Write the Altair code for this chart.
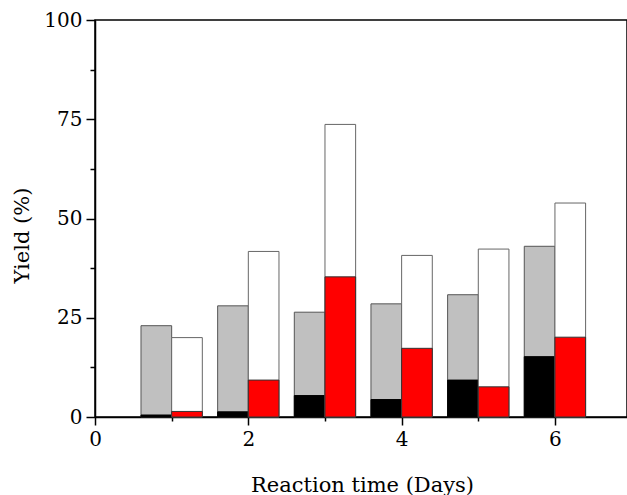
import altair as alt
import pandas as pd

days = [1, 2, 3, 4, 5, 6]
left_total = [23.0, 28.0, 26.4, 28.5, 30.8, 43.0]
left_part = [0.5, 1.3, 5.4, 4.4, 9.3, 15.2]
right_total = [20.0, 41.7, 73.7, 40.7, 42.3, 53.9]
right_part = [1.4, 9.3, 35.3, 17.3, 7.6, 20.1]

minor_x_ticks = [1, 3, 5]
minor_y_ticks = [12.5, 37.5, 62.5, 87.5]

df = pd.DataFrame({
    "day": days,
    "lt": left_total,
    "lp": left_part,
    "rt": right_total,
    "rp": right_part,
})

W, H = 532, 397
FONT = "DejaVu Serif"

xscale = alt.Scale(domain=[0, 6.94], nice=False, zero=False)
yscale = alt.Scale(domain=[0, 100], nice=False)

base = alt.Chart(df).transform_calculate(
    l0="datum.day - 0.4", l1="datum.day", r0="datum.day", r1="datum.day + 0.4"
)

x_major = alt.Axis(values=[0, 2, 4, 6], format="d", tickSize=8, labelPadding=4,
                   orient="bottom", labelFlush=False,
                   title="Reaction time (Days)", titleX=267, titleY=68,
                   titleBaseline="middle", grid=False)
y_major = alt.Axis(values=[0, 25, 50, 75, 100], tickSize=9, labelPadding=4,
                   orient="left", labelFlush=False,
                   title="Yield (%)", titleX=-73, titleY=215, titleBaseline="middle",
                   grid=False)

lt = base.mark_bar(color="#C0C0C0", stroke="#555555", strokeWidth=1).encode(
    x=alt.X("l0:Q", scale=xscale, axis=x_major), x2="l1:Q",
    y=alt.Y("lt:Q", scale=yscale, axis=y_major), y2=alt.datum(0))
lp = base.mark_bar(color="#000000", stroke="#000000", strokeWidth=1).encode(
    x=alt.X("l0:Q", scale=xscale, axis=None), x2="l1:Q",
    y=alt.Y("lp:Q", scale=yscale, axis=None), y2=alt.datum(0))
rt = base.mark_bar(color="#FFFFFF", stroke="#666666", strokeWidth=1).encode(
    x=alt.X("r0:Q", scale=xscale, axis=None), x2="r1:Q",
    y=alt.Y("rt:Q", scale=yscale, axis=None), y2=alt.datum(0))
rp = base.mark_bar(color="#FF0000", stroke="#333333", strokeWidth=1).encode(
    x=alt.X("r0:Q", scale=xscale, axis=None), x2="r1:Q",
    y=alt.Y("rp:Q", scale=yscale, axis=None), y2=alt.datum(0))

minor_df = pd.DataFrame({"mx": minor_x_ticks + [None], "my": minor_y_ticks})
minor = alt.Chart(minor_df).mark_point(opacity=0).encode(
    x=alt.X("mx:Q", scale=xscale,
            axis=alt.Axis(values=minor_x_ticks, labels=False, tickSize=4, domain=False,
                          orient="bottom", title=None, grid=False)),
    y=alt.Y("my:Q", scale=yscale,
            axis=alt.Axis(values=minor_y_ticks, labels=False, tickSize=5,
                          orient="left", domain=False, title=None, grid=False)))

chart = alt.layer(lt, lp, rt, rp, minor).resolve_axis(
    x="independent", y="independent"
).properties(
    width=W, height=H,
    autosize=alt.AutoSizeParams(type="none"),
    padding={"left": 95, "top": 20, "right": 0, "bottom": 78},
).configure(
    background="white"
).configure_view(
    stroke="#000000", strokeWidth=1.5
).configure_axis(
    domainColor="#000000", domainWidth=1.5, tickColor="#000000", tickWidth=1.5,
    labelFont=FONT, titleFont=FONT, labelFontSize=20, titleFontSize=21,
    labelColor="#000000", titleColor="#000000", titleFontWeight="normal",
)

chart.save("out.html", embed_options={"renderer": "svg", "actions": False})
